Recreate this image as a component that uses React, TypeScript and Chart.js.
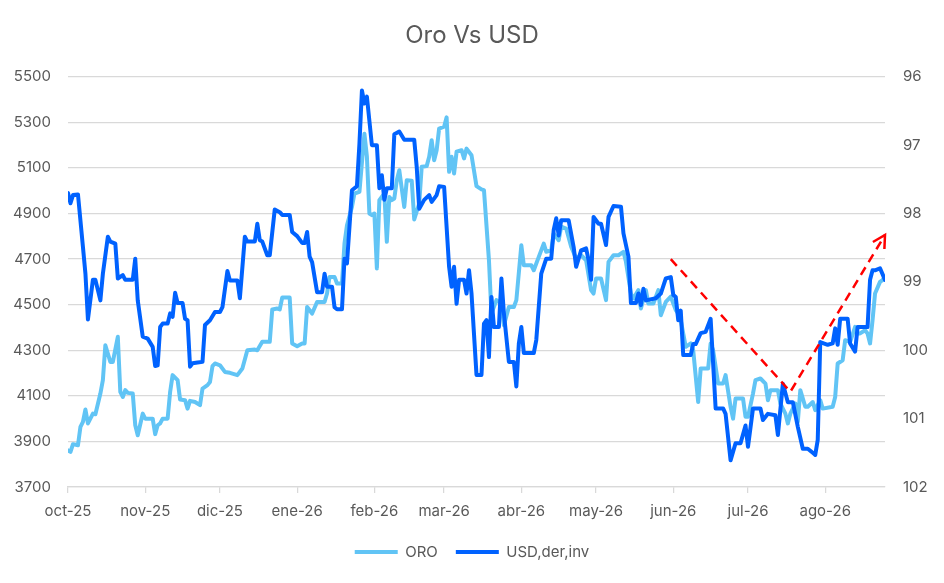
import React, { useEffect, useRef } from 'react';
import { Chart, registerables } from 'chart.js';

Chart.register(...registerables);

// eje x: días desde 1-oct-2025
const monthStarts = [0, 31, 61, 92, 123, 151, 182, 212, 243, 273, 304];
const monthLabels = ['oct-25', 'nov-25', 'dic-25', 'ene-26', 'feb-26', 'mar-26', 'abr-26', 'may-26', 'jun-26', 'jul-26', 'ago-26'];
const lastDay = 328;

// Oro (eje izquierdo) [día, valor]
const oroPoints: [number, number][] = [
  [0, 3861], [1, 3854], [2, 3888], [4, 3883], [5, 3964], [6, 3986], [7, 4040], [8, 3979], [10, 4022], [11, 4019],
  [13, 4110], [14, 4169], [15, 4322], [17, 4249], [18, 4249], [20, 4359], [21, 4117], [22, 4095], [23, 4125], [24, 4113],
  [26, 4110], [27, 3971], [28, 3927], [30, 4022], [31, 4000], [34, 4000], [35, 3932], [36, 3971], [37, 3979], [38, 4000],
  [40, 4000], [41, 4117], [42, 4191], [44, 4169], [45, 4084], [47, 4081], [48, 4044], [49, 4078], [51, 4073], [53, 4059],
  [54, 4132], [56, 4147], [57, 4161], [58, 4230], [59, 4242], [61, 4234], [63, 4205], [65, 4201], [68, 4191], [70, 4220],
  [72, 4300], [75, 4303], [76, 4300], [78, 4337], [81, 4337], [82, 4479], [84, 4483], [85, 4479], [86, 4531], [89, 4531],
  [90, 4330], [92, 4318], [94, 4330], [95, 4330], [96, 4490], [98, 4461], [100, 4512], [103, 4512], [104, 4549], [105, 4622],
  [107, 4622], [108, 4593], [110, 4593], [111, 4768], [112, 4849], [114, 4929], [115, 4988], [117, 4995], [119, 5250], [120, 5150],
  [121, 4900], [122, 4893], [123, 4900], [124, 4659], [125, 4959], [127, 4988], [128, 4776], [129, 4973], [130, 4959], [131, 4966],
  [132, 5046], [133, 5090], [135, 4929], [136, 5046], [138, 5044], [139, 4874], [141, 4944], [142, 5105], [144, 5108], [145, 5149],
  [146, 5222], [147, 5134], [148, 5178], [149, 5273], [151, 5281], [152, 5322], [153, 5083], [154, 5149], [155, 5076], [156, 5171],
  [158, 5178], [159, 5142], [160, 5185], [162, 5156], [164, 5020], [166, 5006], [167, 5003], [169, 4695], [170, 4461], [172, 4520],
  [174, 4505], [175, 4410], [177, 4490], [179, 4490], [180, 4520], [182, 4761], [183, 4673], [186, 4673], [187, 4651], [189, 4710],
  [191, 4768], [192, 4732], [194, 4739], [195, 4812], [197, 4783], [198, 4842], [200, 4834], [202, 4754], [204, 4703], [206, 4717],
  [208, 4695], [210, 4564], [211, 4549], [212, 4615], [214, 4615], [216, 4520], [217, 4688], [219, 4717], [221, 4717], [223, 4732],
  [224, 4688], [226, 4549], [227, 4527], [229, 4564], [230, 4483], [232, 4564], [233, 4505], [235, 4505], [237, 4564], [238, 4454],
  [240, 4512], [242, 4535], [244, 4476], [245, 4461], [246, 4432], [248, 4315], [250, 4330], [251, 4300], [253, 4073], [254, 4220],
  [255, 4220], [257, 4220], [258, 4330], [259, 4300], [261, 4154], [263, 4154], [264, 4191], [266, 4052], [267, 4000], [268, 4088],
  [271, 4088], [272, 4008], [273, 4008], [275, 4110], [276, 4169], [278, 4176], [280, 4154], [281, 4081], [282, 4125], [285, 4125],
  [286, 4066], [288, 4022], [289, 3979], [290, 4022], [292, 4066], [293, 3986], [294, 4125], [296, 4052], [297, 4052], [299, 4073],
  [300, 4037], [302, 4081], [303, 4044], [307, 4052], [308, 4095], [309, 4242], [311, 4256], [312, 4344], [314, 4337], [316, 4403],
  [317, 4374], [318, 4374], [320, 4388], [321, 4374], [322, 4330], [323, 4432], [324, 4549], [326, 4600], [327, 4608], [328, 4622],
];

// USD (eje derecho, invertido) [día, valor]
const usdPoints: [number, number][] = [
  [0, 97.70], [1, 97.85], [2, 97.73], [4, 97.72], [6, 98.49], [7, 98.88], [8, 99.55], [10, 98.97], [11, 98.97], [13, 99.27],
  [14, 98.88], [16, 98.34], [17, 98.41], [19, 98.44], [20, 98.95], [22, 98.90], [23, 98.97], [26, 98.97], [27, 98.66], [28, 99.27],
  [30, 99.80], [32, 99.83], [34, 99.95], [35, 100.23], [36, 100.22], [37, 99.66], [38, 99.61], [40, 99.61], [41, 99.46], [42, 99.51],
  [43, 99.16], [44, 99.31], [46, 99.31], [47, 99.54], [48, 99.56], [49, 100.24], [50, 100.19], [52, 100.18], [54, 100.17], [55, 99.63],
  [57, 99.56], [59, 99.44], [61, 99.44], [62, 99.37], [64, 98.84], [65, 98.98], [68, 98.98], [69, 99.24], [71, 98.34], [72, 98.41],
  [75, 98.41], [76, 98.15], [77, 98.39], [78, 98.41], [80, 98.61], [81, 98.61], [83, 97.94], [85, 97.98], [86, 98.02], [89, 98.02],
  [90, 98.27], [92, 98.33], [94, 98.43], [95, 98.43], [96, 98.27], [97, 98.63], [98, 98.71], [100, 99.15], [102, 99.15], [103, 98.88],
  [104, 99.07], [106, 99.07], [107, 99.37], [108, 99.40], [110, 99.40], [111, 98.66], [112, 98.73], [114, 97.66], [116, 97.60], [117, 96.98],
  [118, 96.20], [119, 96.39], [120, 96.29], [122, 97.00], [124, 97.00], [125, 97.63], [126, 97.44], [127, 97.80], [128, 97.63], [130, 97.63],
  [131, 96.84], [133, 96.80], [135, 96.92], [139, 96.92], [140, 97.32], [141, 97.93], [143, 97.80], [145, 97.73], [146, 97.83], [148, 97.73],
  [149, 97.60], [151, 97.61], [153, 98.78], [154, 99.07], [155, 98.78], [156, 99.32], [157, 98.97], [159, 98.97], [160, 99.17], [161, 98.83],
  [162, 99.17], [164, 100.36], [166, 100.36], [167, 99.61], [168, 99.56], [169, 100.10], [170, 99.22], [171, 99.66], [173, 99.66], [174, 98.95],
  [175, 99.46], [177, 100.17], [179, 100.17], [180, 100.53], [181, 99.90], [182, 99.66], [183, 100.04], [187, 100.04], [188, 99.85], [190, 98.88],
  [192, 98.66], [194, 98.66], [195, 98.24], [196, 98.07], [197, 98.32], [198, 98.10], [201, 98.10], [203, 98.49], [204, 98.78], [206, 98.54],
  [208, 98.51], [209, 98.68], [210, 98.97], [211, 98.05], [213, 98.15], [214, 98.15], [216, 98.46], [217, 98.05], [219, 97.89], [222, 97.90],
  [223, 98.29], [225, 98.63], [226, 99.31], [228, 99.31], [229, 99.17], [230, 99.34], [231, 99.10], [232, 99.27], [236, 99.24], [238, 99.17],
  [240, 98.95], [242, 98.93], [243, 99.19], [244, 99.22], [245, 99.56], [246, 99.42], [247, 100.07], [250, 100.07], [251, 99.91], [252, 99.91],
  [254, 99.75], [256, 99.73], [258, 99.54], [260, 100.85], [263, 100.85], [264, 100.93], [266, 101.61], [268, 101.36], [270, 101.36], [272, 101.10],
  [273, 101.41], [275, 100.85], [278, 100.85], [279, 101.02], [281, 100.93], [284, 100.95], [285, 101.24], [287, 100.49], [289, 100.76], [291, 100.76],
  [293, 101.12], [295, 101.44], [297, 101.44], [299, 101.50], [300, 101.53], [301, 101.31], [302, 99.88], [305, 99.92], [307, 99.90], [308, 99.68],
  [309, 99.92], [310, 99.54], [313, 99.54], [314, 99.90], [316, 100.02], [317, 99.66], [321, 99.66], [322, 98.97], [323, 98.83], [324, 98.83],
  [326, 98.80], [328, 98.97],
];

// flechas rojas (en unidades del eje izquierdo)
const arrowDays = [242, 290, 328];
const arrowVals = [4700, 4118, 4806];

const GREY = '#595959';
const GRID = '#d9d9d9';
const FONT = 'Inter, "Open Sans", sans-serif';

// punta de flecha al final de la serie roja
const arrowHead = {
  id: 'arrowHead',
  afterDatasetsDraw(chart: any) {
    const meta = chart.getDatasetMeta(2);
    const pts = meta.data;
    if (!pts || pts.length < 2) return;
    const a = pts[pts.length - 2];
    const b = pts[pts.length - 1];
    const ang = Math.atan2(b.y - a.y, b.x - a.x);
    const len = 14;
    const ctx = chart.ctx;
    ctx.save();
    ctx.strokeStyle = '#ff0000';
    ctx.lineWidth = 2.5;
    ctx.setLineDash([]);
    ctx.beginPath();
    ctx.moveTo(b.x - len * Math.cos(ang - 0.5), b.y - len * Math.sin(ang - 0.5));
    ctx.lineTo(b.x, b.y);
    ctx.lineTo(b.x - len * Math.cos(ang + 0.5), b.y - len * Math.sin(ang + 0.5));
    ctx.stroke();
    ctx.restore();
  },
};

export default function App() {
  const canvasRef = useRef<HTMLCanvasElement>(null);

  useEffect(() => {
    document.body.style.margin = '0';
    const ctx = canvasRef.current?.getContext('2d');
    if (!ctx) return;

    const chart = new Chart(ctx, {
      type: 'line',
      data: {
        datasets: [
          {
            label: 'ORO',
            data: oroPoints.map(([x, y]) => ({ x, y })),
            borderColor: '#61c4f5',
            backgroundColor: '#61c4f5',
            borderWidth: 4,
            borderCapStyle: 'round',
            borderJoinStyle: 'round',
            pointRadius: 0,
            yAxisID: 'y',
            order: 2,
          },
          {
            label: 'USD,der,inv',
            data: usdPoints.map(([x, y]) => ({ x, y })),
            borderColor: '#0062ff',
            backgroundColor: '#0062ff',
            borderWidth: 4,
            borderCapStyle: 'round',
            borderJoinStyle: 'round',
            pointRadius: 0,
            yAxisID: 'y2',
            order: 1,
          },
          {
            label: 'tendencia',
            data: arrowDays.map((x, i) => ({ x, y: arrowVals[i] })),
            borderColor: '#ff0000',
            borderWidth: 2.5,
            borderDash: [9, 6],
            pointRadius: 0,
            yAxisID: 'y',
            order: 0,
          },
        ],
      },
      options: {
        responsive: false,
        animation: false,
        layout: { padding: { left: 0, right: 0, top: 0, bottom: 13.5 } },
        plugins: {
          title: {
            display: true,
            text: 'Oro Vs USD',
            color: GREY,
            font: { family: FONT, size: 24, weight: 'normal' },
            padding: { top: 21, bottom: 27 },
          },
          legend: {
            position: 'bottom',
            labels: {
              usePointStyle: true,
              pointStyle: 'line',
              pointStyleWidth: 43,
              boxWidth: 43,
              padding: 18,
              color: GREY,
              font: { family: FONT, size: 15 },
              filter: (item: any) => item.datasetIndex < 2,
              sort: (a: any, b: any) => a.datasetIndex - b.datasetIndex,
            },
          },
          tooltip: { enabled: false },
        },
        scales: {
          x: {
            type: 'linear',
            min: 0,
            max: lastDay,
            afterBuildTicks: (scale: any) => {
              scale.ticks = monthStarts.map((value) => ({ value }));
            },
            afterFit: (scale: any) => {
              scale.height = 39.5;
            },
            ticks: {
              autoSkip: false,
              maxRotation: 0,
              padding: 9,
              color: GREY,
              font: { family: FONT, size: 15 },
              callback: (v: any) => monthLabels[monthStarts.indexOf(Number(v))] ?? '',
            },
            grid: { drawOnChartArea: false, drawTicks: true, tickLength: 6, color: GRID, lineWidth: 1.25 },
            border: { display: true, color: GRID, width: 1.25 },
          },
          y: {
            position: 'left',
            min: 3700,
            max: 5500,
            ticks: {
              stepSize: 200,
              padding: 17,
              color: GREY,
              font: { family: FONT, size: 15 },
              callback: (v: any) => String(v),
            },
            grid: { color: GRID, lineWidth: 1.25, drawTicks: false },
            border: { display: false },
            afterFit: (scale: any) => {
              scale.width = 68;
            },
          },
          y2: {
            position: 'right',
            min: 96,
            max: 102,
            reverse: true,
            ticks: {
              stepSize: 1,
              padding: 18,
              color: GREY,
              font: { family: FONT, size: 15 },
              callback: (v: any) => String(v),
            },
            grid: { drawOnChartArea: false, drawTicks: false },
            border: { display: false },
            afterFit: (scale: any) => {
              scale.width = 59;
            },
          },
        },
      },
      plugins: [arrowHead],
    });

    return () => chart.destroy();
  }, []);

  return (
    <div style={{ width: 944, height: 583, background: '#fff' }}>
      <canvas ref={canvasRef} width={944} height={583} style={{ display: 'block' }} />
    </div>
  );
}
